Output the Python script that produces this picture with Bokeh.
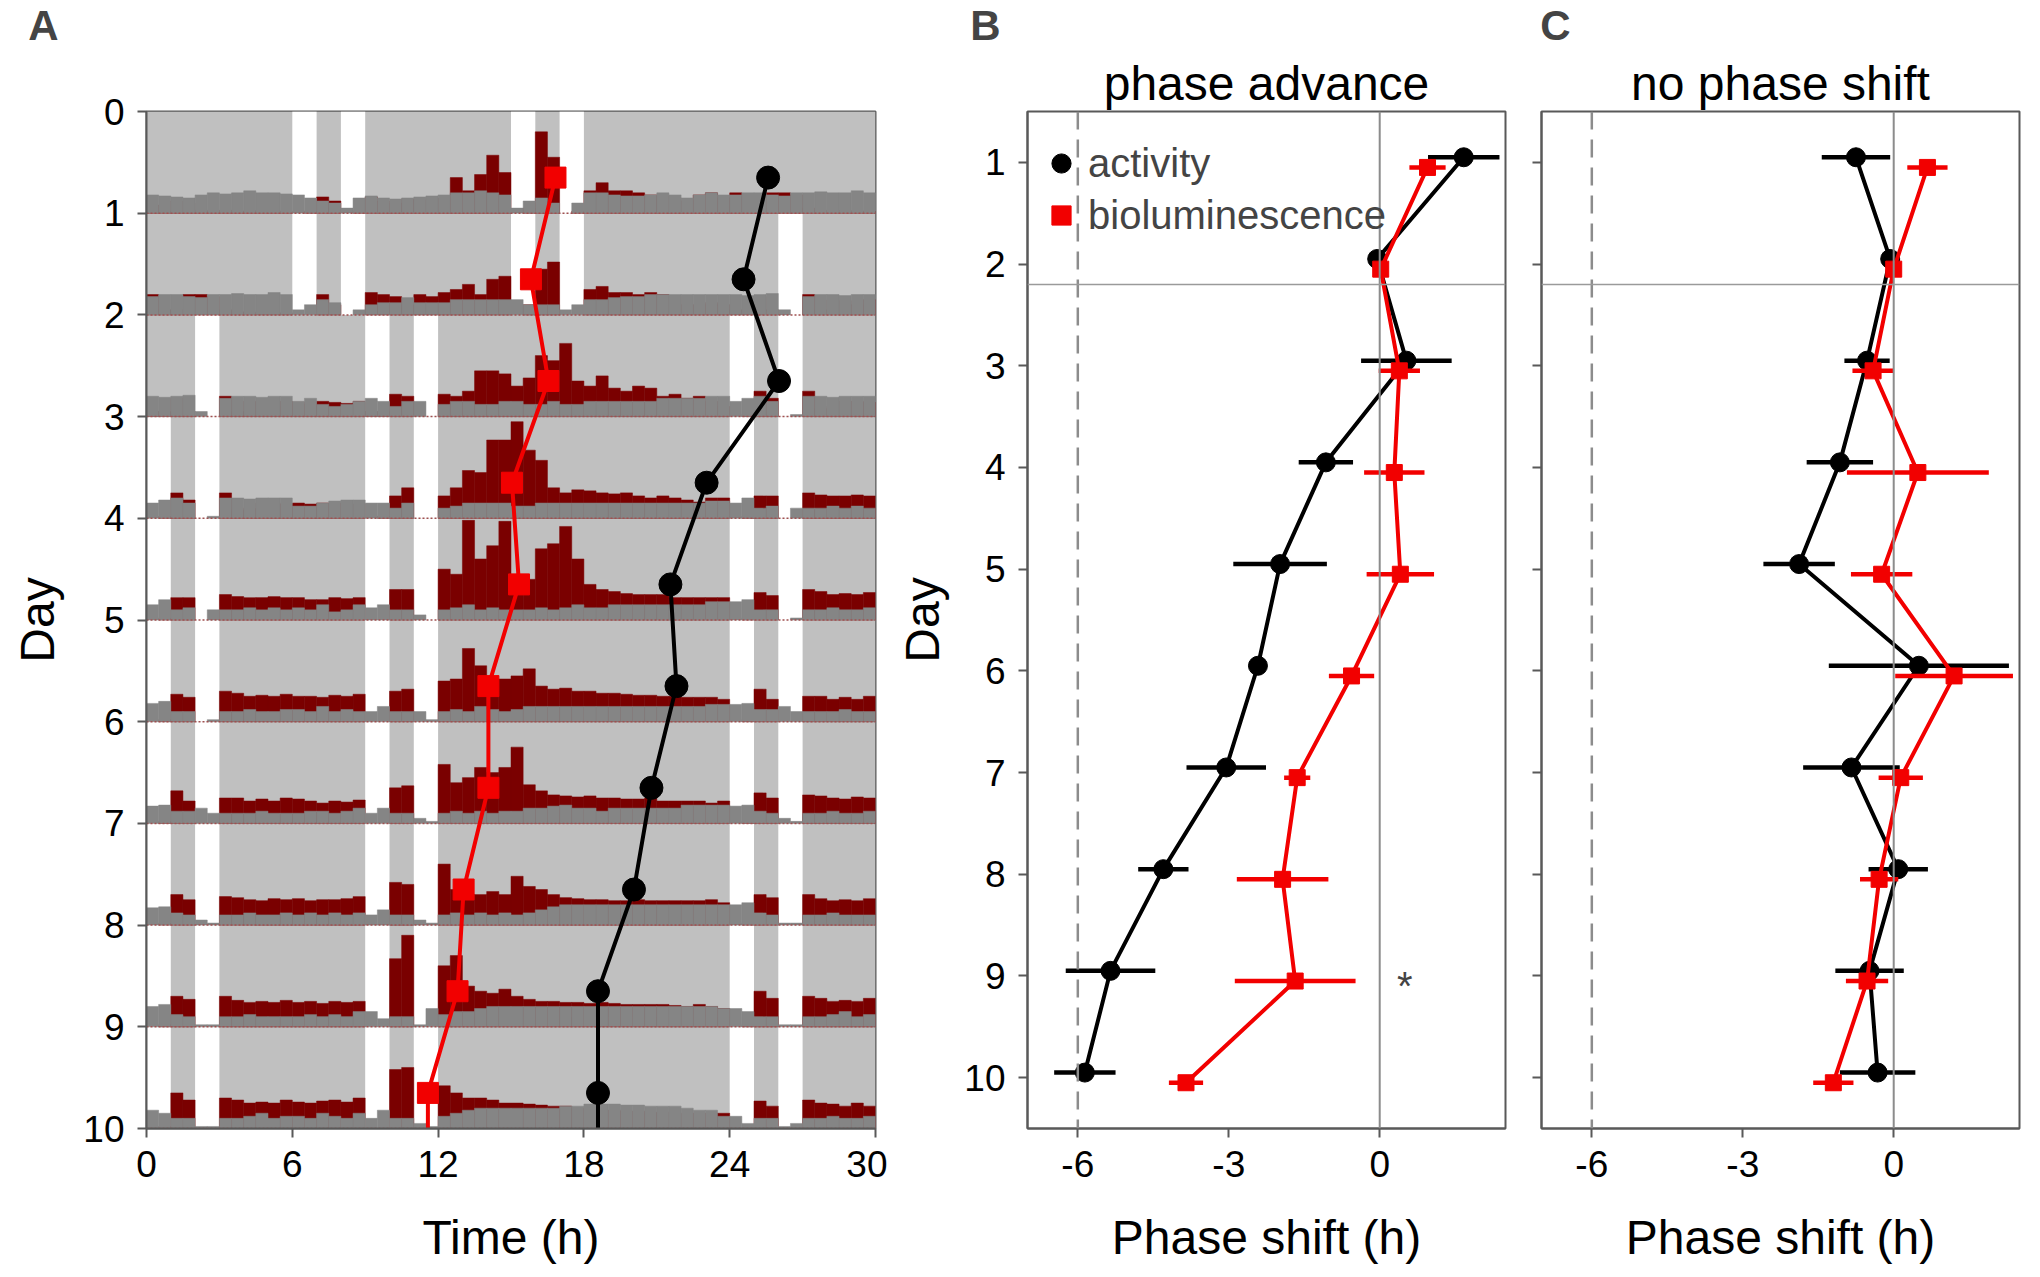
from bokeh.plotting import figure
from bokeh.layouts import row, column
from bokeh.models import Range1d, FixedTicker, Span, Label, Legend, LegendItem, ColumnDataSource
from bokeh.embed import file_html
from bokeh.resources import INLINE

FONT = "Liberation Sans"

# ======================= Panel A data (actogram) =======================
time_ticks = [0, 6, 12, 18, 24, 30]
day_ticks_A = [0, 1, 2, 3, 4, 5, 6, 7, 8, 9, 10]
bin_hours = 0.5

# one-hour white gaps (start hour) for each day
gaps_d0 = [6, 8, 15, 17]
gaps_d1 = [6, 8, 15, 17]
gaps_d2 = [2, 9, 11]
gaps_d3 = [0, 2, 9, 11]
gaps_d4 = [0, 2, 9, 11]
gaps_d5 = [0, 2, 9, 11]
gaps_d6 = [0, 2, 9, 11]
gaps_d7 = [0, 2, 9, 11]
gaps_d8 = [0, 2, 9, 11]
gaps_d9 = [0, 2, 9, 11]
gaps_d10 = [0, 2, 9, 11]

# trace heights (fraction of a row), half-hour bins, 0-24 h of each day
gray_d0 = [0.18, 0.17, 0.16, 0.15, 0.18, 0.20, 0.19, 0.20, 0.22, 0.20, 0.20, 0.19,
           0.18, 0.15, 0.12, 0.10, 0.05, 0.15, 0.17, 0.15, 0.14, 0.15, 0.16, 0.17,
           0.18, 0.20, 0.20, 0.22, 0.20, 0.18, 0.05, 0.12, 0.15, 0.10, 0.00, 0.10,
           0.20, 0.20, 0.18, 0.17, 0.17, 0.18, 0.20, 0.18, 0.15, 0.18, 0.20, 0.18]
red_d0 = [0.08, 0.02, 0.12, 0.10, 0.03, 0.02, 0.03, 0.02, 0.02, 0.03, 0.02, 0.02,
          0.00, 0.02, 0.16, 0.12, 0.00, 0.02, 0.16, 0.12, 0.10, 0.14, 0.13, 0.15,
          0.15, 0.35, 0.22, 0.38, 0.57, 0.40, 0.00, 0.05, 0.80, 0.55, 0.00, 0.02,
          0.22, 0.30, 0.22, 0.22, 0.20, 0.18, 0.17, 0.15, 0.12, 0.18, 0.20, 0.15]
gray_d1 = [0.18, 0.20, 0.20, 0.18, 0.17, 0.20, 0.20, 0.21, 0.20, 0.20, 0.22, 0.20,
           0.05, 0.10, 0.15, 0.12, 0.00, 0.05, 0.10, 0.12, 0.12, 0.17, 0.12, 0.12,
           0.12, 0.15, 0.15, 0.15, 0.15, 0.15, 0.15, 0.10, 0.10, 0.10, 0.05, 0.10,
           0.15, 0.15, 0.17, 0.18, 0.18, 0.20, 0.20, 0.20, 0.20, 0.20, 0.20, 0.20]
red_d1 = [0.20, 0.05, 0.05, 0.20, 0.20, 0.18, 0.05, 0.03, 0.02, 0.03, 0.02, 0.02,
          0.00, 0.00, 0.20, 0.10, 0.00, 0.00, 0.22, 0.20, 0.18, 0.10, 0.20, 0.18,
          0.22, 0.25, 0.30, 0.20, 0.35, 0.38, 0.00, 0.10, 0.45, 0.52, 0.00, 0.00,
          0.25, 0.28, 0.22, 0.22, 0.20, 0.22, 0.20, 0.18, 0.10, 0.10, 0.12, 0.10]
gray_d2 = [0.20, 0.19, 0.20, 0.21, 0.05, 0.00, 0.18, 0.20, 0.20, 0.19, 0.20, 0.20,
           0.15, 0.18, 0.12, 0.10, 0.12, 0.15, 0.18, 0.15, 0.10, 0.15, 0.15, 0.00,
           0.12, 0.15, 0.15, 0.12, 0.12, 0.15, 0.15, 0.12, 0.12, 0.15, 0.12, 0.12,
           0.15, 0.15, 0.15, 0.15, 0.15, 0.15, 0.18, 0.18, 0.18, 0.18, 0.20, 0.20]
red_d2 = [0.05, 0.05, 0.18, 0.05, 0.00, 0.00, 0.20, 0.05, 0.15, 0.14, 0.10, 0.15,
          0.14, 0.12, 0.15, 0.14, 0.13, 0.15, 0.05, 0.05, 0.22, 0.20, 0.00, 0.00,
          0.22, 0.20, 0.25, 0.45, 0.45, 0.42, 0.30, 0.38, 0.60, 0.55, 0.72, 0.35,
          0.30, 0.40, 0.28, 0.25, 0.30, 0.28, 0.20, 0.22, 0.18, 0.20, 0.15, 0.10]
gray_d3 = [0.15, 0.18, 0.20, 0.15, 0.00, 0.02, 0.20, 0.20, 0.19, 0.20, 0.20, 0.20,
           0.12, 0.12, 0.15, 0.17, 0.18, 0.18, 0.15, 0.15, 0.10, 0.15, 0.00, 0.00,
           0.10, 0.12, 0.15, 0.15, 0.15, 0.15, 0.12, 0.12, 0.15, 0.15, 0.15, 0.15,
           0.15, 0.15, 0.15, 0.15, 0.15, 0.15, 0.15, 0.15, 0.15, 0.15, 0.17, 0.17]
red_d3 = [0.00, 0.02, 0.25, 0.18, 0.00, 0.00, 0.25, 0.08, 0.10, 0.15, 0.15, 0.14,
          0.15, 0.14, 0.15, 0.15, 0.13, 0.14, 0.00, 0.02, 0.22, 0.30, 0.00, 0.00,
          0.22, 0.30, 0.47, 0.45, 0.77, 0.77, 0.95, 0.67, 0.57, 0.30, 0.25, 0.28,
          0.27, 0.25, 0.24, 0.25, 0.22, 0.20, 0.22, 0.20, 0.18, 0.16, 0.20, 0.20]
gray_d4 = [0.15, 0.20, 0.10, 0.12, 0.00, 0.10, 0.10, 0.10, 0.12, 0.10, 0.12, 0.10,
           0.12, 0.10, 0.15, 0.08, 0.10, 0.15, 0.12, 0.15, 0.10, 0.10, 0.05, 0.00,
           0.10, 0.12, 0.15, 0.10, 0.12, 0.10, 0.10, 0.10, 0.12, 0.10, 0.12, 0.15,
           0.12, 0.12, 0.15, 0.15, 0.15, 0.15, 0.15, 0.15, 0.15, 0.15, 0.18, 0.18]
red_d4 = [0.00, 0.02, 0.22, 0.22, 0.00, 0.00, 0.25, 0.23, 0.22, 0.22, 0.23, 0.22,
          0.22, 0.20, 0.20, 0.22, 0.21, 0.22, 0.00, 0.00, 0.30, 0.30, 0.00, 0.00,
          0.50, 0.45, 0.98, 0.60, 0.73, 0.97, 0.35, 0.40, 0.70, 0.75, 0.92, 0.60,
          0.35, 0.30, 0.28, 0.26, 0.25, 0.25, 0.25, 0.22, 0.22, 0.22, 0.22, 0.22]
gray_d5 = [0.18, 0.20, 0.10, 0.10, 0.00, 0.02, 0.10, 0.10, 0.12, 0.10, 0.10, 0.12,
           0.12, 0.10, 0.15, 0.10, 0.12, 0.10, 0.10, 0.15, 0.10, 0.10, 0.10, 0.02,
           0.10, 0.12, 0.10, 0.15, 0.12, 0.10, 0.12, 0.15, 0.15, 0.15, 0.15, 0.15,
           0.15, 0.15, 0.15, 0.15, 0.15, 0.15, 0.15, 0.15, 0.15, 0.15, 0.17, 0.17]
red_d5 = [0.00, 0.02, 0.27, 0.24, 0.00, 0.00, 0.30, 0.28, 0.25, 0.26, 0.25, 0.27,
          0.25, 0.25, 0.24, 0.26, 0.25, 0.27, 0.00, 0.00, 0.30, 0.32, 0.00, 0.00,
          0.40, 0.42, 0.72, 0.55, 0.42, 0.42, 0.45, 0.52, 0.35, 0.32, 0.33, 0.30,
          0.30, 0.28, 0.28, 0.27, 0.26, 0.26, 0.25, 0.25, 0.24, 0.24, 0.24, 0.22]
gray_d6 = [0.17, 0.18, 0.12, 0.12, 0.15, 0.10, 0.10, 0.10, 0.10, 0.12, 0.10, 0.10,
           0.10, 0.12, 0.12, 0.10, 0.12, 0.15, 0.10, 0.15, 0.10, 0.10, 0.05, 0.02,
           0.10, 0.12, 0.10, 0.12, 0.10, 0.12, 0.12, 0.15, 0.15, 0.17, 0.18, 0.15,
           0.15, 0.12, 0.15, 0.15, 0.15, 0.15, 0.15, 0.15, 0.18, 0.18, 0.18, 0.18]
red_d6 = [0.00, 0.02, 0.32, 0.22, 0.00, 0.00, 0.25, 0.25, 0.22, 0.24, 0.22, 0.25,
          0.24, 0.22, 0.20, 0.22, 0.21, 0.23, 0.00, 0.00, 0.35, 0.37, 0.00, 0.00,
          0.58, 0.40, 0.45, 0.55, 0.50, 0.55, 0.75, 0.38, 0.32, 0.28, 0.27, 0.26,
          0.27, 0.25, 0.25, 0.24, 0.24, 0.25, 0.22, 0.22, 0.22, 0.22, 0.20, 0.22]
gray_d7 = [0.17, 0.18, 0.12, 0.10, 0.05, 0.02, 0.10, 0.10, 0.12, 0.10, 0.10, 0.12,
           0.10, 0.12, 0.10, 0.12, 0.10, 0.12, 0.10, 0.15, 0.10, 0.10, 0.05, 0.02,
           0.10, 0.12, 0.10, 0.12, 0.10, 0.12, 0.10, 0.12, 0.15, 0.18, 0.20, 0.20,
           0.20, 0.20, 0.20, 0.20, 0.20, 0.20, 0.20, 0.20, 0.20, 0.20, 0.20, 0.20]
red_d7 = [0.00, 0.02, 0.30, 0.25, 0.00, 0.00, 0.28, 0.27, 0.25, 0.24, 0.26, 0.25,
          0.26, 0.24, 0.25, 0.25, 0.26, 0.28, 0.00, 0.00, 0.42, 0.40, 0.00, 0.00,
          0.60, 0.35, 0.30, 0.30, 0.33, 0.30, 0.48, 0.38, 0.35, 0.30, 0.27, 0.26,
          0.25, 0.25, 0.24, 0.24, 0.25, 0.24, 0.24, 0.24, 0.24, 0.24, 0.25, 0.22]
gray_d8 = [0.20, 0.22, 0.12, 0.10, 0.02, 0.02, 0.10, 0.10, 0.12, 0.10, 0.10, 0.10,
           0.10, 0.12, 0.10, 0.12, 0.10, 0.15, 0.15, 0.08, 0.10, 0.10, 0.02, 0.18,
           0.12, 0.15, 0.15, 0.18, 0.20, 0.20, 0.20, 0.20, 0.20, 0.20, 0.20, 0.20,
           0.20, 0.20, 0.20, 0.20, 0.20, 0.20, 0.20, 0.20, 0.20, 0.20, 0.20, 0.18]
red_d8 = [0.00, 0.02, 0.30, 0.27, 0.00, 0.00, 0.30, 0.26, 0.24, 0.25, 0.24, 0.26,
          0.24, 0.25, 0.23, 0.25, 0.24, 0.25, 0.00, 0.00, 0.67, 0.90, 0.00, 0.00,
          0.60, 0.70, 0.40, 0.35, 0.33, 0.37, 0.30, 0.27, 0.25, 0.25, 0.24, 0.24,
          0.23, 0.24, 0.23, 0.22, 0.22, 0.22, 0.22, 0.21, 0.20, 0.22, 0.20, 0.18]
gray_d9 = [0.18, 0.15, 0.10, 0.10, 0.02, 0.02, 0.10, 0.10, 0.12, 0.15, 0.10, 0.12,
           0.12, 0.10, 0.15, 0.12, 0.10, 0.15, 0.10, 0.18, 0.10, 0.10, 0.05, 0.02,
           0.12, 0.15, 0.18, 0.20, 0.20, 0.20, 0.20, 0.20, 0.20, 0.20, 0.22, 0.22,
           0.24, 0.24, 0.24, 0.23, 0.23, 0.22, 0.22, 0.22, 0.20, 0.18, 0.18, 0.12]
red_d9 = [0.00, 0.02, 0.35, 0.28, 0.00, 0.00, 0.30, 0.28, 0.25, 0.26, 0.25, 0.28,
          0.26, 0.25, 0.27, 0.28, 0.26, 0.30, 0.00, 0.00, 0.58, 0.60, 0.00, 0.00,
          0.42, 0.35, 0.30, 0.30, 0.28, 0.25, 0.25, 0.24, 0.23, 0.22, 0.22, 0.20,
          0.20, 0.18, 0.18, 0.17, 0.17, 0.16, 0.16, 0.15, 0.15, 0.15, 0.15, 0.15]
gray_d10 = [0.12, 0.05, 0.10, 0.10, 0.02, 0.05, 0.10, 0.10, 0.12, 0.10, 0.10, 0.12]
red_d10 = [0.00, 0.00, 0.27, 0.22, 0.00, 0.00, 0.28, 0.25, 0.24, 0.22, 0.25, 0.22]

# daily phase markers (hours), rows 1..10
activity_onset_A = [25.58, 24.57, 26.03, 23.05, 21.56, 21.81, 20.78, 20.06, 18.58, 18.58]
biolum_peak_A = [16.83, 15.82, 16.54, 15.04, 15.33, 14.07, 14.07, 13.05, 12.80, 11.58]

# ======================= Panels B / C data =======================
days = [1, 2, 3, 4, 5, 6, 7, 8, 9, 10]
shift_ticks = [-6, -3, 0]
shift_tick_labels = ["-6", "-3", "0"]
B_activity = [1.67, -0.05, 0.53, -1.07, -1.98, -2.42, -3.05, -4.30, -5.35, -5.86]
B_activity_err = [0.71, 0.05, 0.90, 0.54, 0.93, 0.15, 0.79, 0.50, 0.89, 0.61]
B_biolum = [0.95, 0.02, 0.39, 0.29, 0.41, -0.56, -1.64, -1.93, -1.68, -3.85]
B_biolum_err = [0.36, 0.05, 0.41, 0.60, 0.67, 0.45, 0.26, 0.91, 1.20, 0.34]
C_activity = [-0.75, -0.07, -0.53, -1.07, -1.88, 0.50, -0.84, 0.09, -0.48, -0.32]
C_activity_err = [0.68, 0.05, 0.45, 0.66, 0.71, 1.79, 0.96, 0.59, 0.68, 0.75]
C_biolum = [0.67, 0.00, -0.41, 0.48, -0.24, 1.20, 0.14, -0.29, -0.53, -1.20]
C_biolum_err = [0.40, 0.05, 0.41, 1.41, 0.61, 1.17, 0.44, 0.38, 0.42, 0.40]
release_day = 2.2
target_shift = -6

# ======================= styling helpers =======================
AX = "#595959"
RED = "#f20000"
DARKRED = "#7a0000"
TRACEGRAY = "#858585"
BGGRAY = "#c0c0c0"


def style(p):
    p.grid.visible = False
    p.outline_line_color = AX
    p.outline_line_width = 2
    p.background_fill_color = "white"
    p.border_fill_color = "white"
    for ax in p.axis:
        ax.axis_line_color = AX
        ax.axis_line_width = 2
        ax.major_tick_line_color = AX
        ax.major_tick_line_width = 2
        ax.major_tick_out = 9
        ax.major_tick_in = 0
        ax.minor_tick_line_color = None
        ax.major_label_text_font = FONT
        ax.major_label_text_font_size = "37px"
        ax.major_label_text_color = "black"
        ax.major_label_standoff = 13
        ax.axis_label_text_font = FONT
        ax.axis_label_text_font_size = "48px"
        ax.axis_label_text_font_style = "normal"
        ax.axis_label_text_color = "black"


FRAME_W_A = 729
FRAME_W_BC = 478
FRAME_H = 1017
STRIP_H = 50
TOP = 61
BOTTOM = 140
A_LEFT, A_RIGHT = 146, 12
B_LEFT, B_RIGHT = 140, 15
C_LEFT, C_RIGHT = 21, 11

# ======================= Panel A =======================
pA = figure(x_range=Range1d(0, 30), y_range=Range1d(10, 0),
            frame_width=FRAME_W_A, frame_height=FRAME_H,
            min_border_left=A_LEFT, min_border_right=A_RIGHT,
            min_border_top=TOP, min_border_bottom=BOTTOM,
            output_backend="svg", toolbar_location=None)
style(pA)
pA.xaxis.ticker = FixedTicker(ticks=time_ticks)
pA.yaxis.ticker = FixedTicker(ticks=day_ticks_A)
pA.xaxis.axis_label = "Time (h)"
pA.yaxis.axis_label = "Day"
pA.xaxis.axis_label_standoff = 31
pA.yaxis.axis_label_standoff = 16

gray_days = [gray_d0, gray_d1, gray_d2, gray_d3, gray_d4, gray_d5,
             gray_d6, gray_d7, gray_d8, gray_d9, gray_d10]
red_days = [red_d0, red_d1, red_d2, red_d3, red_d4, red_d5,
            red_d6, red_d7, red_d8, red_d9, red_d10]
gap_days = [gaps_d0, gaps_d1, gaps_d2, gaps_d3, gaps_d4, gaps_d5,
            gaps_d6, gaps_d7, gaps_d8, gaps_d9, gaps_d10]
n_rows = 10
plot_hours = 30

bg = dict(left=[], right=[], top=[], bottom=[])
gp = dict(left=[], right=[], top=[], bottom=[])
for k in range(n_rows):
    bg["left"].append(0); bg["right"].append(plot_hours)
    bg["top"].append(k); bg["bottom"].append(k + 1)
    starts = list(gap_days[k]) + [g + 24 for g in gap_days[k + 1] if g + 24 < plot_hours]
    for s in starts:
        gp["left"].append(s); gp["right"].append(s + 1)
        gp["top"].append(k); gp["bottom"].append(k + 1)
pA.quad(source=ColumnDataSource(bg), left="left", right="right", top="top", bottom="bottom",
        fill_color=BGGRAY, line_color=None)
pA.quad(source=ColumnDataSource(gp), left="left", right="right", top="top", bottom="bottom",
        fill_color="white", line_color=None)


def trace_source(day_lists, k):
    n_next = int((plot_hours - 24) / bin_hours)
    vals = list(day_lists[k]) + list(day_lists[k + 1][:n_next])
    d = dict(left=[], right=[], top=[], bottom=[])
    for i, v in enumerate(vals):
        if v <= 0:
            continue
        d["left"].append(i * bin_hours); d["right"].append((i + 1) * bin_hours)
        d["top"].append(k + 1 - v); d["bottom"].append(k + 1)
    return d


red_q = dict(left=[], right=[], top=[], bottom=[])
gray_q = dict(left=[], right=[], top=[], bottom=[])
for k in range(n_rows):
    for src, lst in ((red_q, red_days), (gray_q, gray_days)):
        d = trace_source(lst, k)
        for key in d:
            src[key].extend(d[key])
pA.quad(source=ColumnDataSource(red_q), left="left", right="right", top="top", bottom="bottom",
        fill_color=DARKRED, line_color=DARKRED, line_width=0.5)
pA.quad(source=ColumnDataSource(gray_q), left="left", right="right", top="top", bottom="bottom",
        fill_color=TRACEGRAY, line_color=TRACEGRAY, line_width=0.5)

base_rows = [k + 1 for k in range(n_rows)]
pA.segment(x0=[0] * n_rows, x1=[plot_hours] * n_rows, y0=base_rows, y1=base_rows,
           line_color="#a05050", line_width=1.5, line_dash="2 2")

row_mid = [k + 0.65 for k in range(n_rows)]
pA.line(x=biolum_peak_A + [biolum_peak_A[-1]], y=row_mid + [n_rows], line_color=RED, line_width=4)
pA.line(x=activity_onset_A + [activity_onset_A[-1]], y=row_mid + [n_rows], line_color="black", line_width=4)
pA.scatter(x=biolum_peak_A, y=row_mid, marker="square", size=21, fill_color=RED, line_color=RED)
pA.scatter(x=activity_onset_A, y=row_mid, marker="circle", size=23, fill_color="black", line_color="black")


# ======================= Panels B / C =======================
def phase_panel(title, act, act_err, bio, bio_err, left_border, right_border, labels):
    p = figure(x_range=Range1d(-7, 2.5), y_range=Range1d(10.5, 0.5),
               frame_width=FRAME_W_BC, frame_height=FRAME_H,
               min_border_left=left_border, min_border_right=right_border,
               min_border_top=TOP, min_border_bottom=BOTTOM,
               output_backend="svg", toolbar_location=None)
    style(p)
    p.title.text = title
    p.title.align = "center"
    p.title.text_font = FONT
    p.title.text_font_size = "48px"
    p.title.text_font_style = "normal"
    p.title.text_color = "black"
    p.title.standoff = 4
    p.xaxis.ticker = FixedTicker(ticks=shift_ticks)
    p.xaxis.major_label_overrides = dict(zip(shift_ticks, shift_tick_labels))
    p.yaxis.ticker = FixedTicker(ticks=days)
    p.xaxis.axis_label = "Phase shift (h)"
    p.xaxis.axis_label_standoff = 31
    if labels:
        p.yaxis.axis_label = "Day"
        p.yaxis.axis_label_standoff = 12
    else:
        p.yaxis.major_label_overrides = {d: "" for d in days}

    p.add_layout(Span(location=target_shift, dimension="height", line_color="#8c8c8c",
                      line_width=2.5, line_dash="18 10"))
    p.add_layout(Span(location=0, dimension="height", line_color="#8c8c8c", line_width=2))
    p.add_layout(Span(location=release_day, dimension="width", line_color="#9a9a9a", line_width=1.5))

    y_act = [d - 0.05 for d in days]
    y_bio = [d + 0.05 for d in days]
    p.segment(x0=[a - e for a, e in zip(act, act_err)], x1=[a + e for a, e in zip(act, act_err)],
              y0=y_act, y1=y_act, line_color="black", line_width=4.5)
    p.line(x=act, y=y_act, line_color="black", line_width=4)
    r_act = p.scatter(x=act, y=y_act, marker="circle", size=19, fill_color="black", line_color="black")
    p.segment(x0=[b - e for b, e in zip(bio, bio_err)], x1=[b + e for b, e in zip(bio, bio_err)],
              y0=y_bio, y1=y_bio, line_color=RED, line_width=4.5)
    p.line(x=bio, y=y_bio, line_color=RED, line_width=4)
    r_bio = p.scatter(x=bio, y=y_bio, marker="square", size=16, fill_color=RED, line_color=RED)
    return p, r_act, r_bio


pB, rBa, rBb = phase_panel("phase advance", B_activity, B_activity_err, B_biolum, B_biolum_err,
                           B_LEFT, B_RIGHT, True)
pC, _, _ = phase_panel("no phase shift", C_activity, C_activity_err, C_biolum, C_biolum_err,
                       C_LEFT, C_RIGHT, False)

legend = Legend(items=[LegendItem(label="activity", renderers=[rBa]),
                       LegendItem(label="bioluminescence", renderers=[rBb])],
                location=(0, 879), glyph_width=48, glyph_height=48, label_height=48,
                spacing=4, padding=10, margin=0, label_standoff=3,
                label_text_font=FONT, label_text_font_size="40px",
                background_fill_alpha=0, border_line_alpha=0)
pB.add_layout(legend)
pB.add_layout(Label(x=0.5, y=9.1, text="*", text_font=FONT, text_font_size="40px",
                    text_align="center", text_baseline="middle"))

# ======================= header strip: panel letters =======================
wA = A_LEFT + FRAME_W_A + A_RIGHT
wB = B_LEFT + FRAME_W_BC + B_RIGHT
wC = C_LEFT + FRAME_W_BC + C_RIGHT
strip_w = wA + wB + wC
head = figure(width=strip_w, height=STRIP_H, x_range=Range1d(0, strip_w), y_range=Range1d(STRIP_H, 0),
              min_border=0, output_backend="svg", toolbar_location=None)
head.axis.visible = False
head.grid.visible = False
head.outline_line_color = None
letter_y = 25
for txt, xpos in (("A", 43), ("B", wA + 98), ("C", wA + wB + 35)):
    head.add_layout(Label(x=xpos, y=letter_y, text=txt, text_font=FONT, text_font_size="42px",
                          text_font_style="bold", text_align="center", text_baseline="middle"))

layout = column(head, row(pA, pB, pC))
open("out.html", "w").write(file_html(layout, INLINE))
